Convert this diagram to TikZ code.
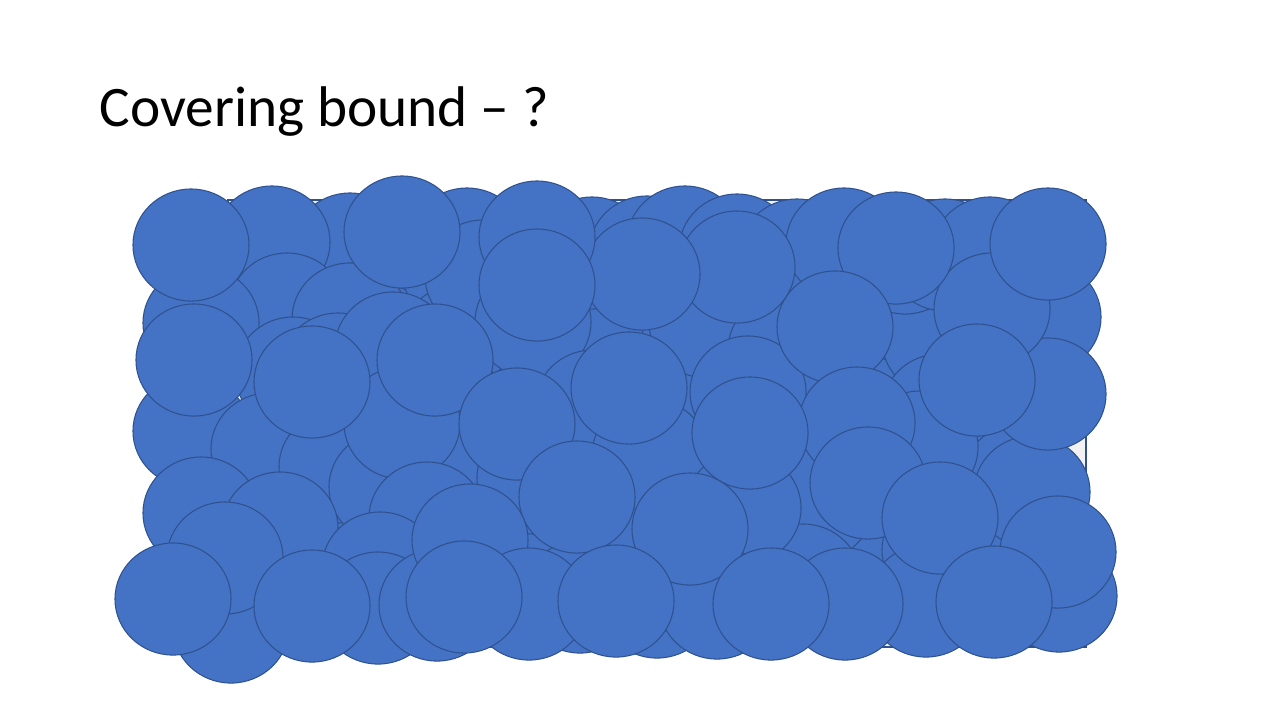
\documentclass[tikz,border=0pt]{standalone}
\usepackage{fontspec}
\setmainfont{Carlito}
\usepackage{tikz}
\definecolor{discfill}{HTML}{4472C4}
\definecolor{discline}{HTML}{2F528F}
\definecolor{areafill}{HTML}{F2F2F2}

\begin{document}
\begin{tikzpicture}[
  x=0.01cm,y=-0.01cm,
  disc/.style={fill=discfill,draw=discline,line width=0.3pt},
  area/.style={fill=areafill,draw=discline,line width=0.6pt},
  title/.style={anchor=base west,inner sep=0pt,font=\fontsize{16.3pt}{20pt}\selectfont}
]
\useasboundingbox (0,0) rectangle (1280,720);
\node[title] (heading) at (99,126) {Covering bound -- ?};

\draw[area] (228,200) rectangle (1086,647);

% filler discs, hidden under the rest
\foreach \cx in {300,380,...,1020}
  \foreach \cy in {270,340,...,590}
    \draw[disc] (\cx,\cy) ellipse [x radius=0.58cm,y radius=0.56cm];

% back layer, mostly hidden
\foreach \cx/\cy in {350/249,272/242,467/244,592/253,647/252,685/242,737/250,797/255,
  844/244,905/258,945/255,990/253,287/309,350/319,201/323,293/373,338/369,393/348,
  483/276,533/322,707/322,786/350,1043/317,191/431,269/449,201/513,337/467,387/487,
  280/528,402/423,427/518,380/568,535/478,593/406,748/392,920/447,1032/492,
  1048/394,815/505,803/580,650/455,743/508,231/627,378/608,580/597,657/602,717/603,
  926/601,1059/596,845/604}
  \draw[disc] (\cx,\cy) ellipse [x radius=0.58cm,y radius=0.56cm];

% front layer
\foreach \cx/\cy in {992/309,977/380,896/248,835/327,857/423,1048/244,737/267,642/274,
  537/237,537/285,402/232,191/245,435/360,312/382,194/360,629/388,517/424,577/497,
  750/433,690/529,868/483,940/518,1058/552,225/558,173/599,312/606,437/605,470/540,
  529/604,464/597,616/601,771/604,994/602}
  \draw[disc] (\cx,\cy) ellipse [x radius=0.58cm,y radius=0.56cm];
\end{tikzpicture}
\end{document}
